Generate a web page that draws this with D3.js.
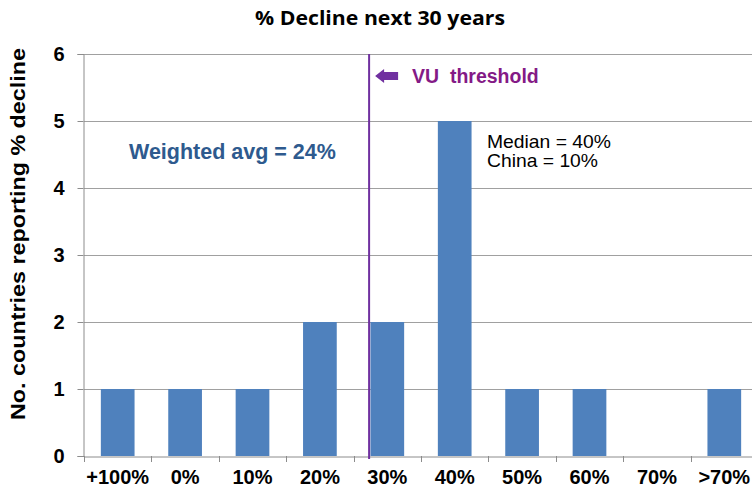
<!DOCTYPE html>
<html>
<head>
<meta charset="utf-8">
<script src="https://cdn.jsdelivr.net/npm/d3@7"></script>
<style>
  html, body { margin: 0; padding: 0; background: #fff; }
  svg { display: block; }
</style>
</head>
<body>
<svg id="chart" width="752" height="495"></svg>
<script>
const categories = ["+100%", "0%", "10%", "20%", "30%", "40%", "50%", "60%", "70%", ">70%"];
const counts = [1, 1, 1, 2, 2, 5, 1, 1, 0, 1];
const yTicks = [0, 1, 2, 3, 4, 5, 6];
const titleText = "% Decline next 30 years";
const yLabelText = "No. countries reporting % decline";
const thresholdCategory = "30%";
const thresholdLabel = "VU  threshold";
const weightedText = "Weighted avg = 24%";
const noteLines = ["Median = 40%", "China = 10%"];

(function () {
const svg = d3.select("#chart");
const pLeft = 84, pRight = 758, pTop = 54, pBottom = 456;

const x = d3.scaleBand().domain(categories).range([pLeft, pRight]).paddingInner(0.5).paddingOuter(0.25);
const y = d3.scaleLinear().domain([0, 6]).range([pBottom, pTop]);

const font = "'Liberation Sans', Arial, sans-serif";

// gridlines
svg.append("g").selectAll("line").data(yTicks.filter(d => d > 0)).join("line")
  .attr("x1", pLeft).attr("x2", 752)
  .attr("y1", d => Math.round(y(d)) + 0.5).attr("y2", d => Math.round(y(d)) + 0.5)
  .attr("stroke", "#a0a0a0").attr("stroke-width", 1);

// bars
svg.append("g").selectAll("rect").data(categories).join("rect")
  .attr("x", d => x(d))
  .attr("width", x.bandwidth())
  .attr("y", (d, i) => y(counts[i]))
  .attr("height", (d, i) => y(0) - y(counts[i]))
  .attr("fill", "#4f81bd");

// y axis
const yAxis = svg.append("g").attr("transform", `translate(${pLeft - 0.5},0)`)
  .call(d3.axisLeft(y).tickValues(yTicks).tickSize(6).tickPadding(13).tickFormat(d3.format("d")));
yAxis.select(".domain").attr("stroke", "#8c8c8c");
yAxis.selectAll(".tick line").attr("stroke", "#8c8c8c");
yAxis.selectAll(".tick text").attr("font-family", font).attr("font-size", 20).attr("font-weight", "bold").attr("fill", "#000");

// x axis
const xAxis = svg.append("g").attr("transform", `translate(0,${Math.round(y(0)) + 0.5})`)
  .call(d3.axisBottom(x).tickSize(0).tickPadding(13));
xAxis.select(".domain").attr("stroke", "#8c8c8c");
xAxis.selectAll(".tick text").attr("font-family", font).attr("font-size", 20).attr("font-weight", "bold").attr("fill", "#000");
// boundary ticks
const bounds = categories.map(c => x(c) - x.step() * 0.25).concat([pRight]);
svg.append("g").selectAll("line").data(bounds).join("line")
  .attr("x1", d => Math.round(d) + 0.5).attr("x2", d => Math.round(d) + 0.5)
  .attr("y1", Math.round(y(0))).attr("y2", Math.round(y(0)) + 6)
  .attr("stroke", "#8c8c8c");

// threshold line
const tx = x(thresholdCategory) - x.step() * 0.25 + x.step() * 0.23;
svg.append("line")
  .attr("x1", tx).attr("x2", tx).attr("y1", pTop).attr("y2", pBottom + 3)
  .attr("stroke", "#7030a0").attr("stroke-width", 2);

// arrow
const ay = 76, ax = tx + 6;
svg.append("path")
  .attr("d", `M${ax},${ay} L${ax + 9},${ay - 7} L${ax + 9},${ay - 4} L${ax + 23},${ay - 4} L${ax + 23},${ay + 4} L${ax + 9},${ay + 4} L${ax + 9},${ay + 7} Z`)
  .attr("fill", "#7030a0");

svg.append("text").attr("x", 412).attr("y", 83)
  .attr("font-family", font).attr("font-size", 19.5).attr("font-weight", "bold")
  .attr("fill", "#841a86").style("white-space", "pre")
  .text(thresholdLabel);

// title
svg.append("text").attr("x", 380).attr("y", 25).attr("text-anchor", "middle")
  .attr("font-family", "'Open Sans', Lato, sans-serif").attr("font-size", 19.5).attr("font-weight", "bold")
  .attr("textLength", 250).attr("lengthAdjust", "spacingAndGlyphs")
  .attr("fill", "#000").text(titleText);

// y label
svg.append("text").attr("transform", `translate(25,234) rotate(-90)`)
  .attr("text-anchor", "middle")
  .attr("font-family", font).attr("font-size", 21).attr("font-weight", "bold")
  .attr("textLength", 372).attr("lengthAdjust", "spacingAndGlyphs")
  .attr("fill", "#000").text(yLabelText);

// annotations
svg.append("text").attr("x", 129).attr("y", 159)
  .attr("font-family", font).attr("font-size", 21.5).attr("font-weight", "bold")
  .attr("fill", "#2e5a8e").text(weightedText);

svg.append("g").selectAll("text").data(noteLines).join("text")
  .attr("x", 487).attr("y", (d, i) => 148 + i * 19)
  .attr("font-family", font).attr("font-size", 18.5)
  .attr("textLength", (d, i) => i === 0 ? 124 : 111).attr("lengthAdjust", "spacingAndGlyphs")
  .attr("fill", "#000").text(d => d);
})();
</script>
</body>
</html>
